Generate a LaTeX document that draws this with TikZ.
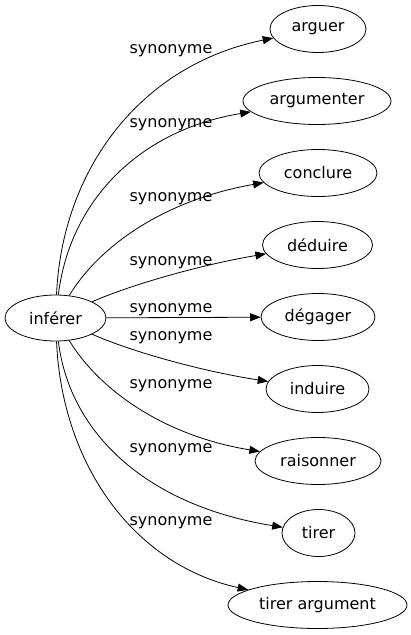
\documentclass[tikz,border=0pt]{standalone}
\usepackage{fontspec}
\setmainfont{DejaVu Sans}
\usetikzlibrary{arrows.meta,shapes.geometric}
\begin{document}
\begin{tikzpicture}[x=1pt,y=-1pt,
  every node/.style={font=\fontsize{16}{19}\selectfont},
  word/.style={draw,ellipse,line width=0.8pt,inner sep=0pt,minimum height=47pt},
  lab/.style={anchor=base,inner sep=0pt},
  syn/.style={draw,line width=0.8pt,-{Triangle[length=10.5pt,width=8pt]}}]
\useasboundingbox (0,0) rectangle (411,635);
\node[word,minimum width=101pt,minimum height=46pt] (src) at (55.5,318) {inférer};
\node[word,minimum width=96pt]  (t1) at (318,29)  {arguer};
\node[word,minimum width=148pt] (t2) at (317,101) {argumenter};
\node[word,minimum width=118pt] (t3) at (318,173) {conclure};
\node[word,minimum width=110pt] (t4) at (317.5,245) {déduire};
\node[word,minimum width=114pt] (t5) at (318,317) {dégager};
\node[word,minimum width=103pt] (t6) at (317.5,389) {induire};
\node[word,minimum width=126pt] (t7) at (318,461) {raisonner};
\node[word,minimum width=73pt]  (t8) at (318.5,533) {tirer};
\node[word,minimum width=179pt] (t9) at (317.5,605) {tirer argument};
\node[lab] (l1) at (171,53)  {synonyme};
\node[lab] (l2) at (171,127) {synonyme};
\node[lab] (l3) at (171,201) {synonyme};
\node[lab] (l4) at (171,265) {synonyme};
\node[lab] (l5) at (171,312) {synonyme};
\node[lab] (l6) at (171,340) {synonyme};
\node[lab] (l7) at (171,388) {synonyme};
\node[lab] (l8) at (171,452) {synonyme};
\node[lab] (l9) at (171,525) {synonyme};
\draw[syn] (src) .. controls (62,170) and (140,65) .. (t1);
\draw[syn] (src) .. controls (70,200) and (140,130) .. (t2);
\draw[syn] (src) .. controls (100,245) and (165,200) .. (t3);
\draw[syn] (src) .. controls (130,285) and (200,265) .. (t4);
\draw[syn] (src) -- (t5);
\draw[syn] (src) .. controls (130,351) and (200,371) .. (t6);
\draw[syn] (src) .. controls (100,391) and (165,436) .. (t7);
\draw[syn] (src) .. controls (70,436) and (150,506) .. (t8);
\draw[syn] (src) .. controls (62,466) and (135,565) .. (t9);
\end{tikzpicture}
\end{document}
